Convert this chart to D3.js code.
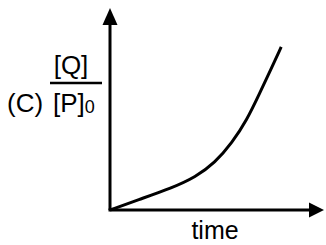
<!DOCTYPE html>
<html>
<head>
<meta charset="utf-8">
<script src="https://cdn.jsdelivr.net/npm/d3@7"></script>
<style>
  html, body { margin: 0; padding: 0; background: #fff; }
  text { font-family: "Liberation Sans", Arial, sans-serif; fill: #000; }
</style>
</head>
<body>
<script>
// curve (time, [Q]/[P]0 in axis percent)
const times = [0, 13, 29, 40, 49, 57, 64, 70, 75, 80];
const ratio = [0, 5, 10.9, 16.3, 23.3, 33.2, 44.6, 57.9, 69.3, 80.7];
const xLabel = "time";
const yNum = "[Q]", yDen = "[P]", yDenSub = "0", panelTag = "(C)";

const W = 326, H = 245;
const svg = d3.select("body").append("svg")
  .attr("width", W).attr("height", H);

const x = d3.scaleLinear().domain([0, 100]).range([110, 324]);
const y = d3.scaleLinear().domain([0, 100]).range([210, 8]);

// 坐标轴 + 箭头
svg.append("line")
  .attr("x1", x(0)).attr("y1", y(0)).attr("x2", x(0)).attr("y2", y(92))
  .attr("stroke", "#000").attr("stroke-width", 3);
svg.append("line")
  .attr("x1", x(0) - 1.5).attr("y1", y(0)).attr("x2", x(93)).attr("y2", y(0))
  .attr("stroke", "#000").attr("stroke-width", 3);

svg.append("path")
  .attr("d", `M${x(0)},${y(100)} L${x(0) - 7.5},${y(100) + 17} L${x(0) + 7.5},${y(100) + 17} Z`)
  .attr("fill", "#000");
svg.append("path")
  .attr("d", `M${x(100)},${y(0)} L${x(100) - 15},${y(0) - 7.5} L${x(100) - 15},${y(0) + 7.5} Z`)
  .attr("fill", "#000");

// 曲线
const pts = times.map((t, i) => [t, ratio[i]]);
svg.append("path")
  .datum(pts)
  .attr("fill", "none")
  .attr("stroke", "#000")
  .attr("stroke-width", 3)
  .attr("d", d3.line().x(d => x(d[0])).y(d => y(d[1])).curve(d3.curveBasis));

// 文字
svg.append("text").attr("x", 215).attr("y", 239)
  .attr("text-anchor", "middle").style("font-size", "25px").text(xLabel);

svg.append("text").attr("x", 7).attr("y", 112)
  .style("font-size", "26px").text(panelTag);

svg.append("text").attr("x", 71).attr("y", 74)
  .attr("text-anchor", "middle").style("font-size", "26px").text(yNum);

svg.append("line")
  .attr("x1", 50).attr("x2", 102).attr("y1", 83).attr("y2", 83)
  .attr("stroke", "#000").attr("stroke-width", 2.5);

const den = svg.append("text").attr("x", 53).attr("y", 112)
  .style("font-size", "26px");
den.append("tspan").text(yDen);
den.append("tspan").attr("dy", 1).style("font-size", "18px").text(yDenSub);
</script>
</body>
</html>
